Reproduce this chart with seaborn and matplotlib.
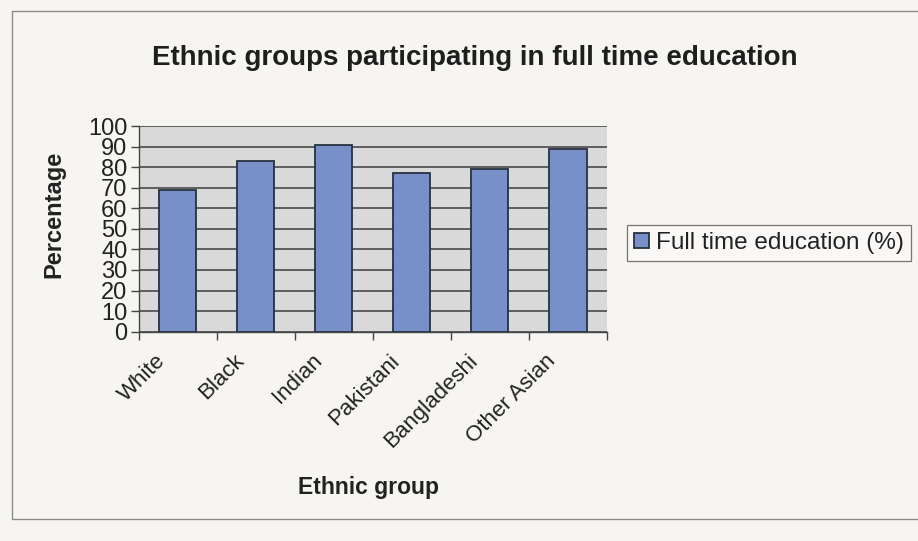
import matplotlib
matplotlib.use("Agg")
import matplotlib.pyplot as plt
from matplotlib.patches import Rectangle
from matplotlib.transforms import ScaledTranslation
import pandas as pd
import seaborn as sns

# Share of each ethnic group in full time education (%)
groups = ["White", "Black", "Indian", "Pakistani", "Bangladeshi", "Other Asian"]
full_time_pct = [69, 83, 91, 77, 79, 89]
y_ticks = [0, 10, 20, 30, 40, 50, 60, 70, 80, 90, 100]
series_name = "Full time education (%)"

df = pd.DataFrame({"Ethnic group": groups, "Percentage": full_time_pct,
                   "series": series_name})

sns.set_theme(style="white")
plt.rcParams["font.family"] = ["Liberation Sans", "DejaVu Sans"]

fig = plt.figure(figsize=(9.18, 5.41), dpi=100, facecolor="#f7f5f2")
ax = fig.add_axes([0.151, 0.387, 0.510, 0.380])
ax.set_facecolor("#d9d9d9")

bar_color = "#6a8ad8"
sns.barplot(data=df, x="Ethnic group", y="Percentage", hue="series",
            palette=[bar_color], width=0.48, edgecolor="#26323f",
            linewidth=1.3, ax=ax, legend=True, zorder=3)

ax.set_ylim(0, 100)
ax.set_xlim(-0.5, len(groups) - 0.5)
ax.set_yticks(y_ticks)
ax.yaxis.grid(True, color="#4a4a4a", linewidth=1.2, zorder=0)
ax.set_axisbelow(True)

for side in ["top", "right"]:
    ax.spines[side].set_visible(False)
for side in ["left", "bottom"]:
    ax.spines[side].set_color("#444444")
    ax.spines[side].set_linewidth(1.0)

# category separators as tick marks, Excel style
ax.set_xticks([i - 0.5 for i in range(len(groups) + 1)], minor=True)
ax.tick_params(axis="x", which="minor", length=6, color="#444444", width=1.0,
               direction="out", bottom=True)
ax.tick_params(axis="x", which="major", length=0, pad=0)
ax.tick_params(axis="y", which="major", length=6, color="#444444", width=1.0,
               direction="out", left=True, labelsize=17, pad=2,
               labelcolor="#222222")

ax.set_xticks(range(len(groups)))
ax.set_xticklabels(groups, rotation=45, ha="right", rotation_mode="anchor",
                   va="center", fontsize=16, color="#222222")
shift = ScaledTranslation(-15 / 100, -26 / 100, fig.dpi_scale_trans)
for lbl in ax.get_xticklabels():
    lbl.set_transform(lbl.get_transform() + shift)

ax.set_xlabel("Ethnic group", fontsize=16.5, fontweight="bold",
              color="#222222")
ax.xaxis.set_label_coords(0.491, -0.70)
ax.set_ylabel("Percentage", fontsize=17, fontweight="bold",
              color="#222222")
ax.yaxis.set_label_coords(-0.157, 0.57)

fig.text(0.517, 0.893, "Ethnic groups participating in full time education",
         ha="center", va="center", fontsize=20, fontweight="bold",
         color="#1e1e1e")

leg = ax.legend(loc="center left", bbox_to_anchor=(0.683, 0.551),
                bbox_transform=fig.transFigure, frameon=True, fontsize=17.5,
                handlelength=0.6, handleheight=0.6, handletextpad=0.3,
                borderpad=0.3, borderaxespad=0, fancybox=False,
                labelcolor="#222222")
leg.get_frame().set_edgecolor("#555555")
leg.get_frame().set_linewidth(0.9)
leg.get_frame().set_facecolor("#fbfaf8")

# outer chart frame
fig.patches.append(Rectangle((0.013, 0.04), 1.2, 0.94, transform=fig.transFigure,
                             fill=False, edgecolor="#8a8a8a", linewidth=1.0))

fig.savefig("out.png", dpi=100, facecolor=fig.get_facecolor())
